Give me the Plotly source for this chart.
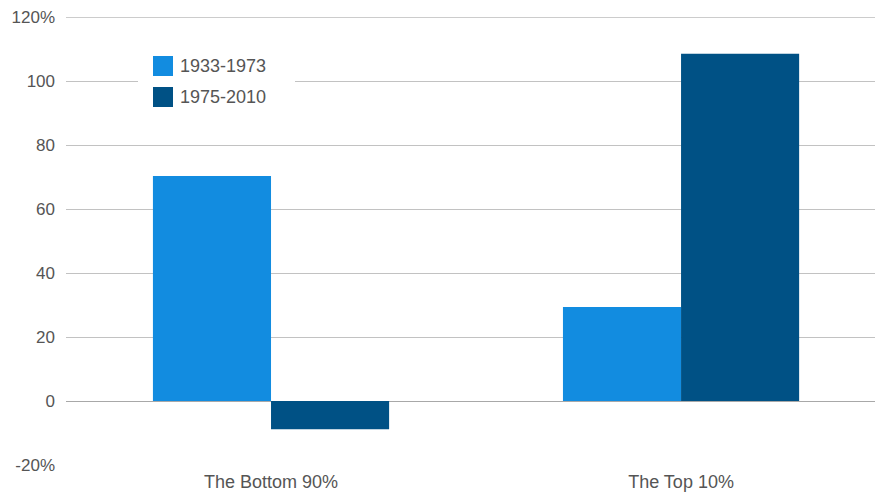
import plotly.graph_objects as go

categories = ["The Bottom 90%", "The Top 10%"]
series_names = ["1933-1973", "1975-2010"]
values_1933_1973 = [70.3, 29.4]
values_1975_2010 = [-8.8, 108.5]
tick_vals = [-20, 0, 20, 40, 60, 80, 100, 120]
tick_text = ["-20%", "0", "20", "40", "60", "80", "100", "120%"]

colors = ["#128ce0", "#005185"]
font_family = "Liberation Sans, Arial, Helvetica, sans-serif"
text_color = "#555555"

# plot area in pixels: x 66..875, y 17..465
PX0, PW, PY1, PH = 66, 809, 465, 448


def px_x(px):
    return (px - PX0) / PW


def px_y(py):
    return (PY1 - py) / PH


fig = go.Figure()
for name, vals, col in zip(series_names, [values_1933_1973, values_1975_2010], colors):
    fig.add_trace(go.Bar(x=categories, y=vals, name=name, showlegend=False,
                         marker=dict(color=col, line=dict(width=0))))

shapes = [
    # darker top border line at 120
    dict(type="line", xref="paper", yref="y", x0=0, x1=1, y0=120, y1=120,
         line=dict(color="#9a9a9a", width=1), layer="between"),
    # white legend panel covering the grid
    dict(type="rect", xref="paper", yref="paper", x0=px_x(138), x1=px_x(295),
         y0=px_y(118), y1=px_y(45), fillcolor="white", line=dict(width=0), layer="above"),
]
annotations = []
for i, (name, col) in enumerate(zip(series_names, colors)):
    top = 56 + i * 31
    shapes.append(dict(type="rect", xref="paper", yref="paper",
                       x0=px_x(153), x1=px_x(173), y0=px_y(top + 20), y1=px_y(top),
                       fillcolor=col, line=dict(width=0), layer="above"))
    annotations.append(dict(xref="paper", yref="paper", x=px_x(178), y=px_y(top + 10),
                            xanchor="left", yanchor="middle", showarrow=False, text=name,
                            font=dict(size=18, color=text_color, family=font_family)))

fig.update_layout(
    width=875, height=494,
    margin=dict(l=66, r=0, t=17, b=29, autoexpand=False),
    paper_bgcolor="white", plot_bgcolor="white",
    barmode="group", bargap=0.424, bargroupgap=0,
    font=dict(family=font_family, size=17, color=text_color),
    showlegend=False,
    shapes=shapes,
    annotations=annotations,
    xaxis=dict(
        range=[-0.5, 1.473], showgrid=False, zeroline=False, showline=False,
        ticks="", ticklabelstandoff=4, tickfont=dict(size=18), automargin=False,
    ),
    yaxis=dict(
        range=[-20, 120], tickvals=tick_vals, ticktext=tick_text,
        showgrid=True, gridcolor="#c2c2c2", gridwidth=1,
        zeroline=True, zerolinecolor="#a8a8a8", zerolinewidth=1,
        showline=False, ticks="", ticklabelstandoff=10, tickfont=dict(size=17),
        automargin=False,
    ),
)

fig.write_html("out.html")
